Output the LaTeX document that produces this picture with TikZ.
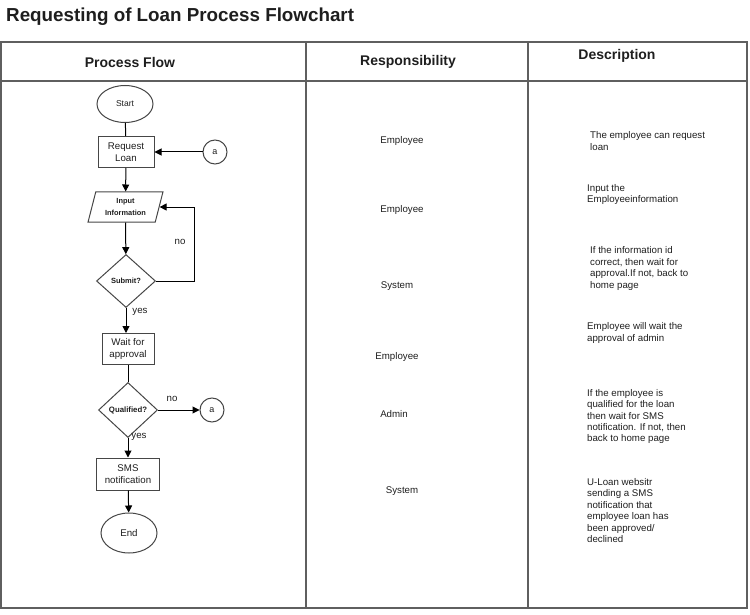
\documentclass[tikz,border=0pt]{standalone}
\usepackage{fontspec}
\setmainfont{Liberation Sans}
\usetikzlibrary{shapes.geometric,arrows.meta}
\definecolor{tableline}{RGB}{95,95,95}
\definecolor{shapeline}{RGB}{70,70,70}
\definecolor{txt}{RGB}{30,30,30}
\begin{document}
\begin{tikzpicture}[x=1pt,y=-1pt,
  every node/.style={text=txt,inner sep=0pt},
  shapebox/.style={draw=shapeline,line width=1pt,align=center,font=\fontsize{9.7}{11.7}\selectfont},
  boxnode/.style={shapebox,rectangle},
  ovalnode/.style={shapebox,ellipse},
  decnode/.style={shapebox,diamond,font=\bfseries\fontsize{7.5}{9}\selectfont},
  connnode/.style={shapebox,circle,minimum size=24pt,font=\fontsize{9}{10}\selectfont},
  flow/.style={draw=black,line width=1pt},
  arr/.style={flow,-{Triangle[length=7pt,width=7pt]}},
  lbl/.style={font=\fontsize{9.7}{11}\selectfont},
  resp/.style={font=\fontsize{9.7}{11.5}\selectfont},
  desc/.style={anchor=west,align=left,font=\fontsize{9.7}{11.4}\selectfont},
  head/.style={font=\bfseries\fontsize{14}{16}\selectfont},
  grid/.style={draw=tableline,line width=1.4pt}]
\useasboundingbox (0,0) rectangle (750,615);
% title
\node[anchor=west,font=\bfseries\fontsize{18.8}{20}\selectfont] (title) at (6,17) {Requesting of Loan Process Flowchart};
% table
\draw[grid] (1,42) rectangle (747,608);
\draw[grid] (1,81) -- (747,81);
\draw[grid] (306,42) -- (306,608);
\draw[grid] (528,42) -- (528,608);
\node[head] (h1) at (130,62) {Process Flow};
\node[head] (h2) at (408,62) {Responsibility};
\node[head] (h3) at (617,56) {Description};
% flowchart
\node[ovalnode,minimum width=56pt,minimum height=37pt,font=\fontsize{8.5}{10}\selectfont] (start) at (125,104) {Start};
\node[boxnode,minimum width=56pt,minimum height=31pt] (req) at (126,152) {Request\\Loan};
\node[connnode] (a1) at (215,152) {a};
\node[shapebox,trapezium,trapezium left angle=73,trapezium right angle=107,trapezium stretches=true,minimum width=75pt,minimum height=30pt,font=\bfseries\fontsize{7.4}{12}\selectfont] (inp) at (125.5,207) {Input\\Information};
\node[decnode,minimum width=59pt,minimum height=53pt] (sub) at (126,281) {Submit?};
\node[boxnode,minimum width=52pt,minimum height=31pt] (wait) at (128,349) {Wait for\\approval};
\node[decnode,minimum width=59pt,minimum height=55pt,font=\bfseries\fontsize{7.8}{9}\selectfont] (qual) at (128,410) {Qualified?};
\node[connnode] (a2) at (212,410) {a};
\node[boxnode,minimum width=63pt,minimum height=32pt] (sms) at (128,474) {SMS\\notification};
\node[ovalnode,minimum width=56pt,minimum height=40pt] (end) at (129,533) {End};
% connectors
\draw[flow] (start) -- (req);
\draw[arr] (a1) -- (req);
\draw[arr] (req) -- (inp);
\draw[arr] (inp) -- (sub);
\draw[arr] (sub.east) -- ++(38,0) |- (inp.east);
\node[lbl] (no1) at (180,242) {no};
\draw[arr] (sub.south) -- (sub.south |- wait.north);
\node[lbl] (yes1) at (140,312) {yes};
\draw[flow] (wait) -- (qual);
\draw[arr] (qual) -- (a2);
\node[lbl] (no2) at (172,399) {no};
\draw[arr] (qual) -- (sms);
\node[lbl] (yes2) at (139,437) {yes};
\draw[arr] (sms) -- (end);
% responsibility
\node[resp] (r1) at (402,141) {Employee};
\node[resp] (r2) at (402,210) {Employee};
\node[resp] (r3) at (397,286) {System};
\node[resp] (r4) at (397,357) {Employee};
\node[resp] (r5) at (394,414) {Admin};
\node[resp] (r6) at (402,491) {System};
% description
\node[desc] (d1) at (590,141) {The employee can request\\loan};
\node[desc] (d2) at (587,194.5) {Input the\\Employeeinformation};
\node[desc] (d3) at (590,268.5) {If the information id\\correct, then wait for\\approval.If not, back to\\home page};
\node[desc] (d4) at (587,333) {Employee will wait the\\approval of admin};
\node[desc] (d5) at (587,416.5) {If the employee is\\qualified for the loan\\then wait for SMS\\notification. If not, then\\back to home page};
\node[desc] (d6) at (587,510.5) {U-Loan websitr\\sending a SMS\\notification that\\employee loan has\\been approved/\\declined};
\end{tikzpicture}
\end{document}
